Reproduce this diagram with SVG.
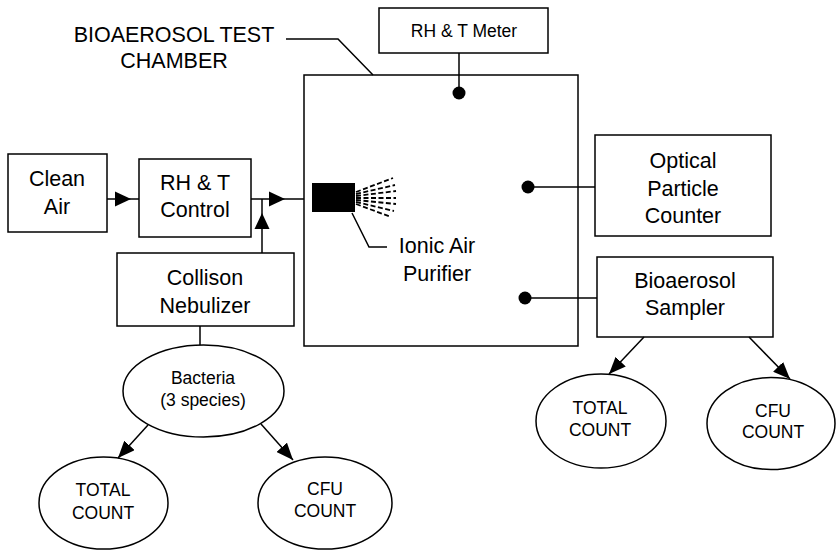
<svg xmlns="http://www.w3.org/2000/svg" width="836" height="550" viewBox="0 0 836 550">
<style>
.box{fill:#fff;stroke:#000;stroke-width:1.5}
.ln{fill:none;stroke:#000;stroke-width:1.5}
.t{font-family:"Liberation Sans",Arial,sans-serif;font-size:21.5px;fill:#000;text-anchor:middle}
.s{font-family:"Liberation Sans",Arial,sans-serif;font-size:17.5px;fill:#000;text-anchor:middle}
.sp{stroke:#000;stroke-width:1.8;stroke-dasharray:5 2.5;fill:none}
.ah{fill:#000}
</style>
<defs>
<marker id="arr" viewBox="0 0 10 10" refX="10" refY="5" markerUnits="userSpaceOnUse" markerWidth="17" markerHeight="14" orient="auto" preserveAspectRatio="none">
<path d="M0,0 L10,5 L0,10 z" fill="#000"/>
</marker>
</defs>
<rect width="836" height="550" fill="#fff"/>

<g id="chamber">
<rect class="box" x="304" y="75" width="274" height="271"/>
<text class="t" x="174" y="42">BIOAEROSOL TEST</text>
<text class="t" x="174" y="68">CHAMBER</text>
</g>

<g id="purifier">
<rect x="312" y="183" width="43" height="29" fill="#000"/>
<g class="sp">
<line x1="356" y1="192" x2="393" y2="178"/>
<line x1="356" y1="194" x2="395" y2="185"/>
<line x1="356" y1="196" x2="396" y2="191"/>
<line x1="356" y1="198" x2="396" y2="198"/>
<line x1="356" y1="200" x2="396" y2="204"/>
<line x1="356" y1="202" x2="394" y2="211"/>
<line x1="356" y1="204" x2="391" y2="217"/>
</g>
<text class="t" x="437" y="253">Ionic Air</text>
<text class="t" x="437" y="281">Purifier</text>
</g>

<g id="clean-air">
<rect class="box" x="8" y="154" width="99" height="78"/>
<text class="t" x="57" y="186">Clean</text>
<text class="t" x="57" y="214">Air</text>
</g>

<g id="rht-control">
<rect class="box" x="139" y="159" width="112" height="78"/>
<text class="t" x="195" y="190">RH &amp; T</text>
<text class="t" x="195" y="217">Control</text>
</g>

<g id="collison">
<rect class="box" x="117" y="253" width="177" height="73"/>
<text class="t" x="205" y="285">Collison</text>
<text class="t" x="205" y="313">Nebulizer</text>
</g>

<g id="rht-meter">
<rect class="box" x="379" y="8" width="169" height="45"/>
<text class="s" x="464" y="37">RH &amp; T Meter</text>
</g>

<g id="opc">
<rect class="box" x="595" y="135" width="176" height="101"/>
<text class="t" x="683" y="168">Optical</text>
<text class="t" x="683" y="196">Particle</text>
<text class="t" x="683" y="223">Counter</text>
</g>

<g id="sampler">
<rect class="box" x="597" y="257" width="176" height="80"/>
<text class="t" x="685" y="288">Bioaerosol</text>
<text class="t" x="685" y="315">Sampler</text>
</g>

<g id="bacteria">
<ellipse class="box" cx="203.5" cy="391" rx="80.5" ry="46"/>
<text class="s" x="203" y="384">Bacteria</text>
<text class="s" x="203" y="406">(3 species)</text>
</g>

<g id="total-left">
<ellipse class="box" cx="103.5" cy="503" rx="64.5" ry="46"/>
<text class="s" x="103" y="496">TOTAL</text>
<text class="s" x="103" y="519">COUNT</text>
</g>

<g id="cfu-left">
<ellipse class="box" cx="325" cy="503" rx="67" ry="46"/>
<text class="s" x="325" y="495">CFU</text>
<text class="s" x="325" y="517">COUNT</text>
</g>

<g id="total-right">
<ellipse class="box" cx="601" cy="421" rx="65" ry="47"/>
<text class="s" x="600" y="414">TOTAL</text>
<text class="s" x="600" y="436">COUNT</text>
</g>

<g id="cfu-right">
<ellipse class="box" cx="771" cy="423.5" rx="64" ry="46"/>
<text class="s" x="773" y="417">CFU</text>
<text class="s" x="773" y="438">COUNT</text>
</g>

<g id="connectors">
<polyline class="ln" points="286,39 338,39 373,75"/>
<polyline class="ln" points="352,213 369,247 387,247"/>
<line class="ln" x1="107" y1="199" x2="139" y2="199"/>
<polygon class="ah" points="115,191.5 131,199 115,206.5"/>
<line class="ln" x1="251" y1="199" x2="304" y2="199"/>
<polygon class="ah" points="269,191.5 285,199 269,206.5"/>
<line class="ln" x1="262" y1="253" x2="262" y2="199"/>
<polygon class="ah" points="254.5,229 262,213 269.5,229"/>
<line class="ln" x1="459" y1="53" x2="459" y2="93"/>
<circle cx="459" cy="93" r="6.5" fill="#000"/>
<line class="ln" x1="528" y1="187" x2="595" y2="187"/>
<circle cx="528" cy="187" r="6.5" fill="#000"/>
<line class="ln" x1="525" y1="298" x2="597" y2="298"/>
<circle cx="525" cy="298" r="6.5" fill="#000"/>
<line class="ln" x1="200" y1="326" x2="200" y2="345"/>
<line class="ln" x1="148" y1="425" x2="118" y2="458" marker-end="url(#arr)"/>
<line class="ln" x1="261" y1="424" x2="293" y2="460" marker-end="url(#arr)"/>
<line class="ln" x1="644" y1="337" x2="609" y2="374" marker-end="url(#arr)"/>
<line class="ln" x1="749" y1="337" x2="790" y2="379" marker-end="url(#arr)"/>
</g>
</svg>
